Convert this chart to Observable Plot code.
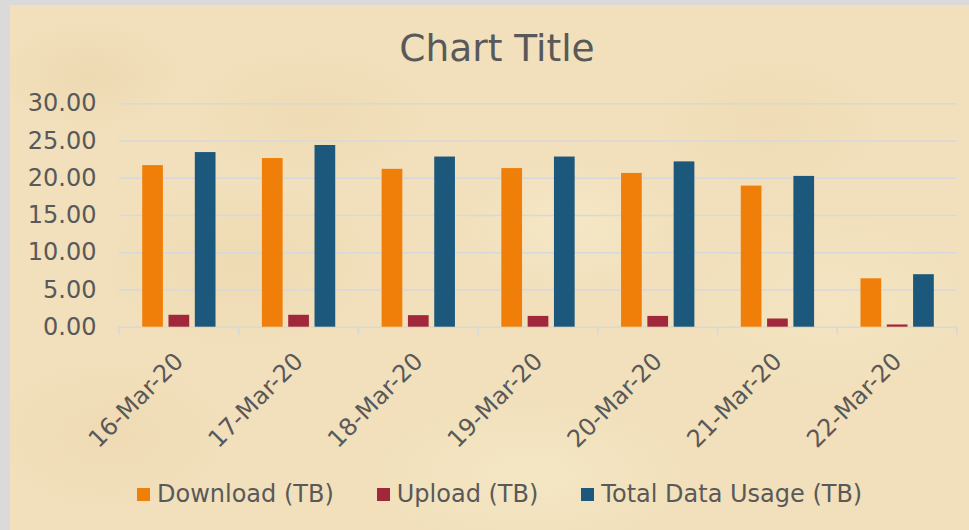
<!DOCTYPE html>
<html>
<head>
<meta charset="utf-8">
<script src="https://cdn.jsdelivr.net/npm/d3@7"></script>
<script src="https://cdn.jsdelivr.net/npm/@observablehq/plot@0.6"></script>
<style>
  html, body { margin: 0; padding: 0; background: #dadada; }
  #wrap { position: relative; width: 969px; height: 530px; overflow: hidden; background: #dadada; }
  #paper {
    position: absolute; left: 10px; top: 5px; right: 0; bottom: 0;
    background-color: #f1e0bb;
    background-image:
      radial-gradient(ellipse 120px 70px at 80px 70px, rgba(228,200,156,0.3), rgba(228,200,156,0) 75%),
      radial-gradient(ellipse 160px 90px at 300px 110px, rgba(232,204,160,0.25), rgba(232,204,160,0) 75%),
      radial-gradient(ellipse 140px 90px at 560px 220px, rgba(250,238,210,0.5), rgba(250,238,210,0) 75%),
      radial-gradient(ellipse 180px 110px at 230px 260px, rgba(230,200,152,0.25), rgba(230,200,152,0) 75%),
      radial-gradient(ellipse 200px 120px at 820px 300px, rgba(246,232,200,0.5), rgba(246,232,200,0) 75%),
      radial-gradient(ellipse 160px 100px at 100px 430px, rgba(232,204,160,0.25), rgba(232,204,160,0) 75%),
      radial-gradient(ellipse 220px 100px at 520px 470px, rgba(248,236,206,0.5), rgba(248,236,206,0) 75%),
      radial-gradient(ellipse 150px 90px at 760px 120px, rgba(232,204,160,0.22), rgba(232,204,160,0) 75%);
  }
  #chart { position: absolute; left: 0; top: 0; }
  #title {
    position: absolute; left: 0; width: 994px; top: 26px; text-align: center;
    font-family: "DejaVu Sans", sans-serif; font-size: 37.5px; color: #595959;
  }
  #legend {
    position: absolute; left: 137px; top: 480px; display: flex; align-items: center;
    font-family: "DejaVu Sans", sans-serif; font-size: 24px; color: #595959; white-space: nowrap;
  }
  #legend .item { display: flex; align-items: center; margin-right: 43px; }
  #legend .sw { width: 13px; height: 13px; margin-right: 7px; }
</style>
</head>
<body>
<div id="wrap">
  <div id="paper"></div>
  <div id="title">Chart Title</div>
  <div id="chart"></div>
  <div id="legend"></div>
</div>
<script>
const dates = ["16-Mar-20", "17-Mar-20", "18-Mar-20", "19-Mar-20", "20-Mar-20", "21-Mar-20", "22-Mar-20"];
const seriesNames = ["Download (TB)", "Upload (TB)", "Total Data Usage (TB)"];
const download = [21.7, 22.65, 21.2, 21.3, 20.65, 18.95, 6.5];
const upload = [1.6, 1.6, 1.55, 1.45, 1.45, 1.1, 0.3];
const total = [23.45, 24.4, 22.85, 22.85, 22.2, 20.25, 7.05];
const colors = ["#ef7f09", "#a0283a", "#1c587c"];
const yTicks = [0, 5, 10, 15, 20, 25, 30];

const valuesBySeries = [download, upload, total];
const rows = [];
dates.forEach((d, i) => {
  seriesNames.forEach((s, j) => rows.push({date: d, series: s, value: valuesBySeries[j][i]}));
});

const chart = Plot.plot({
  width: 969,
  height: 460,
  marginTop: 103.3,
  marginBottom: 133.3,
  marginLeft: 119,
  marginRight: 12,
  style: {background: "transparent", fontFamily: "DejaVu Sans, sans-serif", fontSize: "24px", color: "#595959"},
  facet: {data: rows, x: "date", marginTop: 103.3, marginBottom: 133.3, marginLeft: 119, marginRight: 12},
  fx: {domain: dates, padding: 0, round: false, axis: "bottom", label: null, tickRotate: -45, tickSize: 0, tickPadding: 30},
  x: {domain: seriesNames, paddingInner: 0.213, paddingOuter: 0.882, round: false, axis: null},
  y: {domain: [0, 30], ticks: yTicks, tickFormat: d3.format(".2f"), tickSize: 0, tickPadding: 23, label: null},
  color: {domain: seriesNames, range: colors},
  marks: [
    Plot.ruleY(yTicks.slice(1), {stroke: "#d6d8dc", strokeWidth: 1.6}),
    Plot.ruleY([0], {stroke: "#d6d8dc", strokeWidth: 1.6}),
    Plot.barY(rows, {x: "series", y: "value", fill: "series"})
  ]
});

// category boundary tick marks, positioned from Plot's own fx and y scales
try {
  const fx = Plot.scale({fx: chart.scale("fx")});
  const y = Plot.scale({y: chart.scale("y")});
  const fxDesc = chart.scale("fx");
  const bw = fxDesc.bandwidth;
  const left = 119;
  const y0 = y.apply(0) + 103.3 - 103.3;
  const svg = d3.select(chart.tagName === "svg" ? chart : chart.querySelector("svg"));
  const edges = dates.map(d => fx.apply(d)).concat([fx.apply(dates[dates.length - 1]) + bw]);
  svg.append("g").selectAll("line").data(edges).join("line")
    .attr("x1", d => d).attr("x2", d => d)
    .attr("y1", y0).attr("y2", y0 + 8)
    .attr("stroke", "#d6d8dc").attr("stroke-width", 1.6);
} catch (e) { console.error(e); }

document.getElementById("chart").appendChild(chart);

const legend = document.getElementById("legend");
seriesNames.forEach((s, j) => {
  const item = document.createElement("div");
  item.className = "item";
  const sw = document.createElement("div");
  sw.className = "sw";
  sw.style.background = colors[j];
  const t = document.createElement("span");
  t.textContent = s;
  item.appendChild(sw);
  item.appendChild(t);
  legend.appendChild(item);
});
</script>
</body>
</html>
